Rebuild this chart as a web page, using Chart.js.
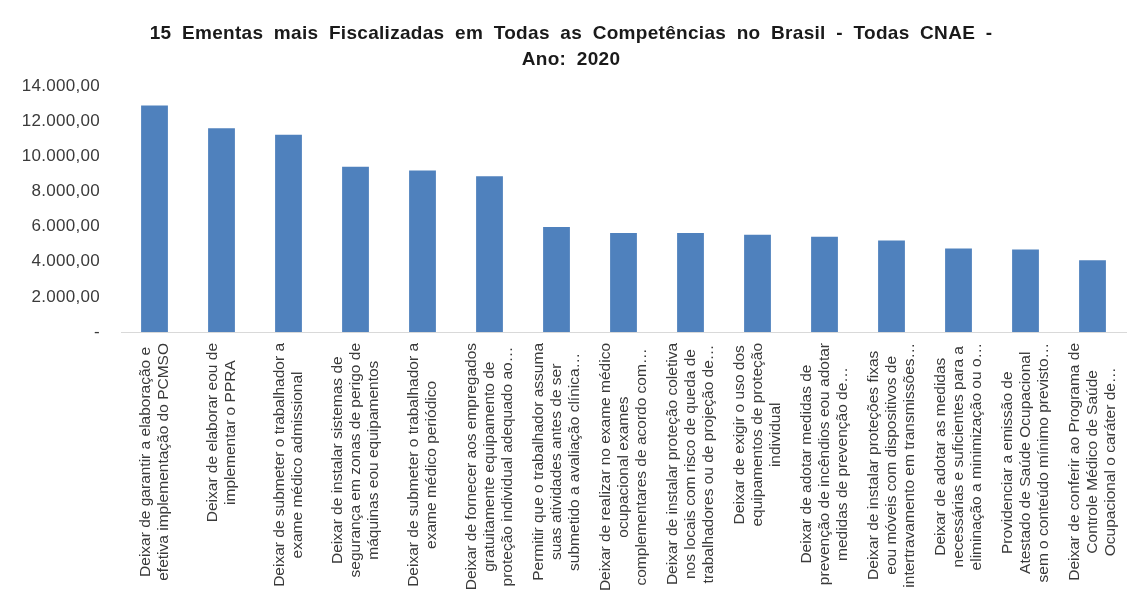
<!DOCTYPE html>
<html>
<head>
<meta charset="utf-8">
<script src="https://cdn.jsdelivr.net/npm/chart.js@4.4.1/dist/chart.umd.min.js"></script>
<style>
  html, body { margin: 0; padding: 0; background: #ffffff; }
  #wrap { width: 1131px; height: 590px; position: relative; }
</style>
</head>
<body>
<div id="wrap"><canvas id="c" width="1131" height="590"></canvas></div>
<script>
const titleLines = [
  "15 Ementas mais Fiscalizadas em Todas as Competências no Brasil - Todas CNAE -",
  "Ano: 2020"
];

const categories = [
  ["Deixar de garantir a elaboração e", "efetiva implementação do PCMSO"],
  ["Deixar de elaborar eou de", "implementar o PPRA"],
  ["Deixar de submeter o trabalhador a", "exame médico admissional"],
  ["Deixar de instalar sistemas de", "segurança em zonas de perigo de", "máquinas eou equipamentos"],
  ["Deixar de submeter o trabalhador a", "exame médico periódico"],
  ["Deixar de fornecer aos empregados", "gratuitamente equipamento de", "proteção individual adequado ao…"],
  ["Permitir que o trabalhador assuma", "suas atividades antes de ser", "submetido a avaliação clínica…"],
  ["Deixar de realizar no exame médico", "ocupacional exames", "complementares de acordo com…"],
  ["Deixar de instalar proteção coletiva", "nos locais com risco de queda de", "trabalhadores ou de projeção de…"],
  ["Deixar de exigir o uso dos", "equipamentos de proteção", "individual"],
  ["Deixar de adotar medidas de", "prevenção de incêndios eou adotar", "medidas de prevenção de…"],
  ["Deixar de instalar proteções fixas", "eou móveis com dispositivos de", "intertravamento em transmissões…"],
  ["Deixar de adotar as medidas", "necessárias e suficientes para a", "eliminação a minimização ou o…"],
  ["Providenciar a emissão de", "Atestado de Saúde Ocupacional", "sem o conteúdo mínimo previsto…"],
  ["Deixar de conferir ao Programa de", "Controle Médico de Saúde", "Ocupacional o caráter de…"]
];

const values = [12900, 11600, 11230, 9400, 9190, 8860, 5970, 5640, 5640, 5530, 5420, 5210, 4760, 4700, 4090];

const yTicks = [0, 2000, 4000, 6000, 8000, 10000, 12000, 14000];

function fmtBR(v) {
  if (v === 0) return "-";
  return v.toLocaleString("pt-BR", { minimumFractionDigits: 2, maximumFractionDigits: 2 });
}

const FONT = "'Liberation Sans', Arial, sans-serif";

// widen title spacing to match the reference's look
const titleSpacing = {
  id: "titleSpacing",
  beforeDraw(chart) {
    chart.ctx.wordSpacing = "5px";
    chart.ctx.letterSpacing = "0.3px";
  },
  beforeDatasetsDraw(chart) {
    chart.ctx.wordSpacing = "0px";
    chart.ctx.letterSpacing = "0px";
  }
};

const rotatedLabels = {
  id: "rotatedLabels",
  afterDraw(chart) {
    const x = chart.scales.x;
    const ctx = chart.ctx;
    const top = x.top + 11;
    const lh = 18;
    ctx.save();
    ctx.wordSpacing = "0px";
    ctx.letterSpacing = "0px";
    ctx.font = "15.5px " + FONT;
    ctx.fillStyle = "#3a3a3a";
    ctx.textAlign = "center";
    ctx.textBaseline = "middle";
    categories.forEach((lines, i) => {
      const px = x.getPixelForValue(i);
      let maxW = 0;
      lines.forEach(l => { maxW = Math.max(maxW, ctx.measureText(l).width); });
      ctx.save();
      ctx.translate(px, top);
      ctx.rotate(-Math.PI / 2);
      const n = lines.length;
      lines.forEach((l, j) => {
        ctx.fillText(l, -maxW / 2, (j - (n - 1) / 2) * lh);
      });
      ctx.restore();
    });
    ctx.restore();
  }
};

new Chart(document.getElementById("c"), {
  type: "bar",
  data: {
    labels: categories,
    datasets: [{
      data: values,
      backgroundColor: "#4f81bd",
      borderWidth: 0,
      barPercentage: 0.4,
      categoryPercentage: 1.0
    }]
  },
  options: {
    responsive: false,
    animation: false,
    devicePixelRatio: 1,
    layout: { padding: { left: 16, right: 5, top: 0, bottom: 258 } },
    plugins: {
      legend: { display: false },
      tooltip: { enabled: false },
      title: {
        display: true,
        text: titleLines,
        color: "#1a1a1a",
        font: { family: FONT, size: 19, weight: "bold", lineHeight: 1.37 },
        padding: { top: 21, bottom: 13 }
      }
    },
    scales: {
      x: {
        grid: { display: false },
        border: { display: true, color: "#d9d9d9", width: 1 },
        ticks: { display: false },
        afterFit(scale) { scale.height = 0; }
      },
      y: {
        min: 0,
        max: 14000,
        afterBuildTicks(scale) { scale.ticks = yTicks.map(v => ({ value: v })); },
        grid: { display: false },
        border: { display: false },
        ticks: {
          color: "#3a3a3a",
          padding: 13,
          font: { family: FONT, size: 17 },
          callback: (v) => fmtBR(v)
        },
        afterFit(scale) { scale.width = 105; }
      }
    }
  },
  plugins: [titleSpacing, rotatedLabels]
});
</script>
</body>
</html>
